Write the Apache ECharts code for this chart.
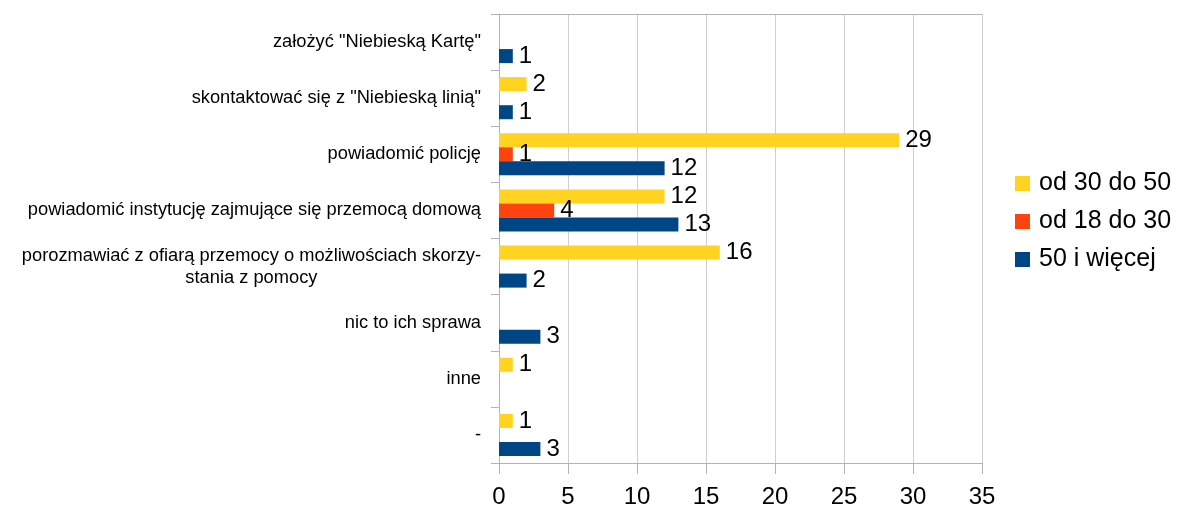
<!DOCTYPE html>
<html>
<head>
<meta charset="utf-8">
<script src="https://cdn.jsdelivr.net/npm/echarts@6/dist/echarts.min.js"></script>
<style>
  html, body { margin: 0; padding: 0; background: #fff; }
  #chart { width: 1178px; height: 507px; }
</style>
</head>
<body>
<div id="chart"></div>
<script>
// kategorie od góry do dołu
var categories = [
  'założyć "Niebieską Kartę"',
  'skontaktować się z "Niebieską linią"',
  'powiadomić policję',
  'powiadomić instytucję zajmujące się przemocą domową',
  'porozmawiać z ofiarą przemocy o możliwościach skorzy-\nstania z pomocy',
  'nic to ich sprawa',
  'inne',
  '-'
];
var seriesNames = ['od 30 do 50', 'od 18 do 30', '50 i więcej'];
var od30do50 = [null, 2, 29, 12, 16, null, 1, 1];
var od18do30 = [null, null, 1, 4, null, null, null, null];
var od50 = [1, 1, 12, 13, 2, 3, null, 3];
var xTicks = [0, 35, 5];

var colors = ['#ffd320', '#ff420e', '#004586'];
var font = '"Liberation Sans", Arial, sans-serif';

function makeSeries(name, data, color) {
  return {
    name: name,
    type: 'bar',
    data: data,
    barGap: '0%',
    barCategoryGap: '25%',
    itemStyle: { color: color },
    label: {
      show: true,
      position: 'right',
      distance: 6,
      color: '#000',
      fontSize: 24,
      fontFamily: font
    }
  };
}

var option = {
  animation: false,
  color: colors,
  textStyle: { fontFamily: font },
  grid: { left: 499, right: 196, top: 14, bottom: 44, containLabel: false, outerBoundsMode: 'none' },
  legend: {
    orient: 'vertical',
    left: 1010,
    top: 166,
    itemWidth: 15,
    itemHeight: 15,
    itemGap: 13,
    icon: 'rect',
    data: seriesNames,
    textStyle: { fontSize: 25, color: '#000', fontFamily: font, padding: [0, 0, 0, 4] }
  },
  xAxis: [{
    type: 'value',
    min: xTicks[0],
    max: xTicks[1],
    interval: xTicks[2],
    axisLine: { show: true, lineStyle: { color: '#b3b3b3' } },
    axisTick: { show: true, length: 11, lineStyle: { color: '#b3b3b3' } },
    splitLine: { show: true, lineStyle: { color: '#cfcfcf', width: 1 } },
    axisLabel: { fontSize: 24, color: '#000', margin: 22, fontFamily: font }
  }, {
    type: 'value',
    position: 'top',
    min: xTicks[0],
    max: xTicks[1],
    interval: xTicks[2],
    axisLine: { show: true, lineStyle: { color: '#b3b3b3' } },
    axisTick: { show: false },
    axisLabel: { show: false },
    splitLine: { show: false }
  }],
  yAxis: {
    type: 'category',
    inverse: true,
    data: categories,
    axisLine: { show: true, lineStyle: { color: '#b3b3b3' } },
    axisTick: { show: true, length: 8, lineStyle: { color: '#b3b3b3' } },
    axisLabel: {
      fontSize: 18.3,
      color: '#000',
      margin: 18,
      fontFamily: font,
      formatter: function (v) {
        return v.split('\n').map(function (l) { return '{c|' + l + '}'; }).join('\n');
      },
      rich: { c: { align: 'center', fontSize: 18.3, color: '#000', fontFamily: font, lineHeight: 22 } }
    }
  },
  series: [
    makeSeries(seriesNames[0], od30do50, colors[0]),
    makeSeries(seriesNames[1], od18do30, colors[1]),
    makeSeries(seriesNames[2], od50, colors[2])
  ]
};

var myChart = echarts.init(document.getElementById('chart'));
myChart.setOption(option);
</script>
</body>
</html>
